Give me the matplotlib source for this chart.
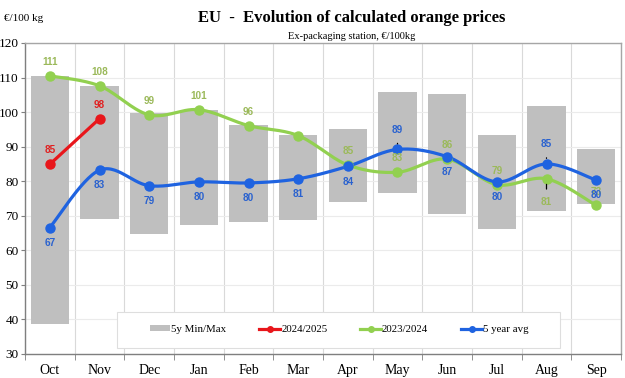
"""EU orange prices: 5y min/max range bars with seasonal price lines."""

import matplotlib

matplotlib.use("Agg")
import matplotlib.pyplot as plt  # noqa: E402
import numpy as np  # noqa: E402
from matplotlib.patches import Patch, Rectangle  # noqa: E402
from matplotlib.lines import Line2D  # noqa: E402

months = ["Oct", "Nov", "Dec", "Jan", "Feb", "Mar", "Apr", "May", "Jun", "Jul", "Aug", "Sep"]
range_min = [38.8, 69.1, 64.8, 67.2, 68.3, 68.9, 74.1, 76.6, 70.4, 66.3, 71.3, 73.3]
range_max = [110.4, 107.6, 99.6, 100.7, 96.2, 93.3, 95.0, 105.8, 105.2, 93.4, 101.8, 89.2]
season_2425 = [84.9, 98.1]
season_2324 = [110.5, 107.6, 99.2, 100.7, 96.1, 93.2, 84.7, 82.6, 86.4, 79.0, 80.7, 73.0]
avg_5y = [66.6, 83.2, 78.7, 79.8, 79.5, 80.7, 84.3, 89.2, 87.1, 79.8, 85.0, 80.3]

labels_2425 = ["85", "98"]
labels_2324 = ["111", "108", "99", "101", "96", "", "85", "83", "86", "79", "81", "73"]
labels_avg = ["67", "83", "79", "80", "80", "81", "84", "89", "87", "80", "85", "80"]

GREY = "#bfbfbf"
RED = "#e8161b"
GREEN = "#92d050"
BLUE = "#1f63e0"
SERIF = "Liberation Serif"
SANS = "Liberation Sans"


def smooth(xs, ys, n=30):
    """Excel-style smoothed line through the points (cubic Bezier segments)."""
    pts = np.column_stack([xs, ys]).astype(float)
    if len(pts) < 3:
        return pts[:, 0], pts[:, 1]
    t = np.linspace(0.0, 1.0, n)[:, None]
    segments = []
    for i in range(len(pts) - 1):
        p0 = pts[max(i - 1, 0)]
        p1 = pts[i]
        p2 = pts[i + 1]
        p3 = pts[min(i + 2, len(pts) - 1)]
        c1 = p1 + (p2 - p0) / 6.0
        c2 = p2 - (p3 - p1) / 6.0
        seg = (1 - t) ** 3 * p1 + 3 * (1 - t) ** 2 * t * c1 + 3 * (1 - t) * t**2 * c2 + t**3 * p2
        segments.append(seg if i == 0 else seg[1:])
    curve = np.vstack(segments)
    return curve[:, 0], curve[:, 1]


def label_points(axis, xs, ys, texts, color, places, leaders=()):
    for i, (x, y, text) in enumerate(zip(xs, ys, texts)):
        if not text:
            continue
        dy = 10 if places[i] == "a" else -11
        kwargs = dict(
            textcoords="offset points",
            ha="center",
            va="center",
            fontsize=7.2,
            fontweight="bold",
            family=SANS,
            color=color,
        )
        if i in leaders:
            dy = 14 if places[i] == "a" else -17
            kwargs["arrowprops"] = dict(arrowstyle="-", color="black", lw=0.9, shrinkA=4, shrinkB=4)
        axis.annotate(text, (x, y), xytext=(0, dy), zorder=6, **kwargs)


fig = plt.figure(figsize=(6.25, 3.78), dpi=100)
axis = fig.add_axes([0.04, 0.0635, 0.9536, 0.8228])
x = np.arange(len(months))

axis.bar(
    x,
    np.array(range_max) - np.array(range_min),
    bottom=range_min,
    width=0.77,
    color=GREY,
    zorder=2,
)

for values, color in ((season_2324, GREEN), (season_2425, RED), (avg_5y, BLUE)):
    xs = x[: len(values)]
    sx, sy = smooth(xs, values)
    axis.plot(sx, sy, color=color, lw=2.3, zorder=3, solid_capstyle="round")
    axis.plot(xs, values, "o", color=color, ms=6.5, zorder=4)

label_points(axis, x, season_2324, labels_2324, "#9bb95a", ["a"] * 10 + ["b", "a"], leaders=(10,))
label_points(axis, x[:2], season_2425, labels_2425, "#e02020", ["a", "a"])
label_points(
    axis,
    x,
    avg_5y,
    labels_avg,
    "#2a62cf",
    ["b"] * 7 + ["a", "b", "b", "a", "b"],
    leaders=(7, 10),
)

axis.set_xlim(-0.5, len(months) - 0.5)
axis.set_ylim(30, 120)
axis.set_yticks(np.arange(30, 121, 10))
axis.set_xticks(x)
axis.set_xticklabels(months)
axis.set_xticks(np.arange(-0.5, len(months), 1.0), minor=True)
axis.tick_params(axis="x", which="major", length=0, pad=7, labelsize=10)
axis.tick_params(axis="x", which="minor", length=4, color="#7f7f7f", direction="out")
axis.tick_params(axis="y", length=3, color="#7f7f7f", direction="out", labelsize=9.5, pad=1.5)
for label in axis.get_xticklabels() + axis.get_yticklabels():
    label.set_family(SERIF)
axis.grid(which="minor", axis="x", color="#d9d9d9", lw=0.8, zorder=0)
axis.grid(which="major", axis="y", color="#ebebeb", lw=0.8, zorder=0)
axis.set_axisbelow(True)
for name, spine in axis.spines.items():
    spine.set_color("#7f7f7f" if name in ("left", "bottom") else "#a6a6a6")
    spine.set_linewidth(1.0)

# legend box sits inside the plot area, drawn separately so its padding can match
axis.add_patch(
    Rectangle(
        (0.154, 0.019),
        0.744,
        0.116,
        transform=axis.transAxes,
        facecolor="white",
        edgecolor="#dedede",
        lw=0.8,
        zorder=5,
    )
)
handles = [
    Patch(facecolor=GREY, edgecolor="none", label="5y Min/Max"),
    Line2D([], [], color=RED, lw=2.3, marker="o", ms=4, label="2024/2025"),
    Line2D([], [], color=GREEN, lw=2.3, marker="o", ms=4, label="2023/2024"),
    Line2D([], [], color=BLUE, lw=2.3, marker="o", ms=4, label="5 year avg"),
]
legend = axis.legend(
    handles=handles,
    ncol=4,
    loc="center",
    bbox_to_anchor=(0.527, 0.078),
    frameon=False,
    prop={"family": SERIF, "size": 7.8},
    handlelength=1.9,
    handleheight=0.5,
    columnspacing=3.05,
    handletextpad=0.1,
)
legend.set_zorder(6)

fig.text(0.562, 0.952, "EU  -  Evolution of calculated orange prices", ha="center", va="center",
         family=SERIF, fontweight="bold", fontsize=12)
fig.text(0.562, 0.903, "Ex-packaging station, €/100kg", ha="center", va="center",
         family=SERIF, fontsize=7.5)
fig.text(0.006, 0.952, "€/100 kg", ha="left", va="center", family=SERIF, fontsize=8)

fig.savefig("out.png", dpi=100)
plt.close(fig)
